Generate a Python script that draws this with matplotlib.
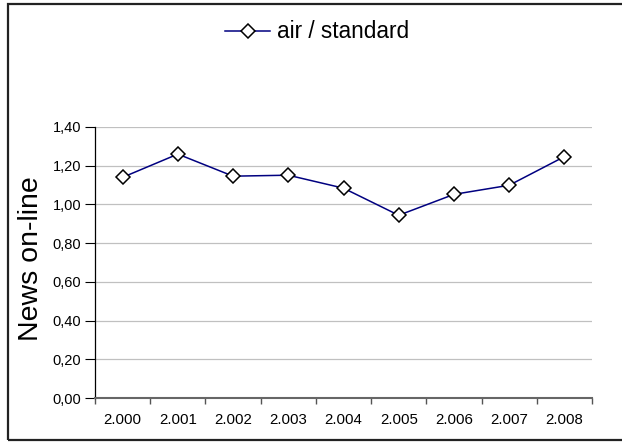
import matplotlib
matplotlib.use('Agg')
import matplotlib.pyplot as plt
from matplotlib.patches import Rectangle

years = ['2.000', '2.001', '2.002', '2.003', '2.004', '2.005', '2.006', '2.007', '2.008']
values = [1.14, 1.26, 1.146, 1.151, 1.084, 0.944, 1.052, 1.099, 1.247]
yticks = [0.0, 0.2, 0.4, 0.6, 0.8, 1.0, 1.2, 1.4]
ylabels = ['0,00', '0,20', '0,40', '0,60', '0,80', '1,00', '1,20', '1,40']

plt.rcParams['font.family'] = ['Liberation Sans', 'DejaVu Sans']

fig = plt.figure(figsize=(6.22, 4.46), dpi=100)
ax = fig.add_axes([95 / 622, 1 - 398 / 446, 497 / 622, 271 / 446])

x = list(range(len(years)))
ax.plot(x, values, color='#000080', linewidth=1.1, marker='D', markersize=7.5,
        markerfacecolor='white', markeredgecolor='black', markeredgewidth=1.1,
        label='air / standard', zorder=3)

ax.set_xlim(-0.5, len(years) - 0.5)
ax.set_ylim(0, 1.4)
ax.set_yticks(yticks)
ax.set_yticklabels(ylabels, fontsize=10.5)
ax.set_xticks(x)
ax.set_xticklabels(years, fontsize=10.8)
ax.set_xticks([i - 0.5 for i in range(len(years) + 1)], minor=True)
ax.tick_params(axis='x', which='major', length=0, pad=11)
ax.tick_params(axis='x', which='minor', length=4, width=1, color='#555555', direction='out')
ax.tick_params(axis='y', length=7, width=0.8, direction='out', pad=3)

ax.grid(axis='y', color='#c0c0c0', linewidth=0.9)
ax.set_axisbelow(True)
for s in ['top', 'right']:
    ax.spines[s].set_visible(False)
ax.spines['left'].set_color('black')
ax.spines['left'].set_linewidth(0.9)
ax.spines['bottom'].set_color('#666666')
ax.spines['bottom'].set_linewidth(1.5)

ax.set_ylabel('News on-line', fontsize=20.5)
ax.yaxis.set_label_coords(-(95 - 44) / 497, 0.5 + 4 / 271)

fig.legend(loc='center', bbox_to_anchor=(317 / 622, 1 - 32 / 446), frameon=False,
           fontsize=16.3, handlelength=2.0, handletextpad=0.3, borderaxespad=0)

fig.patches.append(Rectangle((8 / 622, 1 - 440 / 446), 1.5, 436 / 446, transform=fig.transFigure,
                             fill=False, edgecolor='#222222', linewidth=1.6))

fig.savefig('out.png', dpi=100)
